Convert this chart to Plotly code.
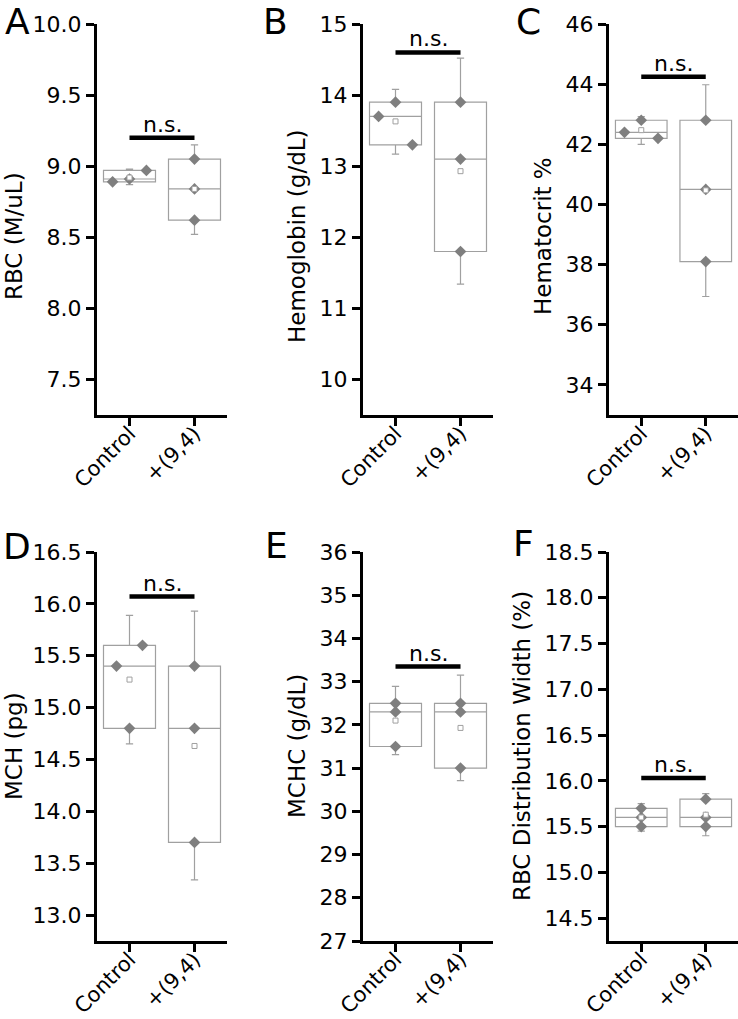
import plotly.graph_objects as go

# ---------------- data ----------------
groups = ["Control", "+(9,4)"]

rbc_control = [8.89, 8.91, 8.97]
rbc_treated = [9.05, 8.84, 8.62]
rbc_mean = [8.92, 8.84]
rbc_q1 = [8.89, 8.62]
rbc_median = [8.91, 8.84]
rbc_q3 = [8.97, 9.05]
rbc_low = [8.87, 8.52]
rbc_high = [8.98, 9.15]

hgb_control = [13.7, 13.9, 13.3]
hgb_treated = [13.9, 13.1, 11.8]
hgb_mean = [13.63, 12.93]
hgb_q1 = [13.3, 11.8]
hgb_median = [13.7, 13.1]
hgb_q3 = [13.9, 13.9]
hgb_low = [13.17, 11.34]
hgb_high = [14.08, 14.52]

hct_control = [42.4, 42.8, 42.2]
hct_treated = [42.8, 40.5, 38.1]
hct_mean = [42.47, 40.47]
hct_q1 = [42.2, 38.1]
hct_median = [42.4, 40.5]
hct_q3 = [42.8, 42.8]
hct_low = [42.0, 36.94]
hct_high = [42.92, 43.98]

mch_control = [15.4, 14.8, 15.6]
mch_treated = [15.4, 14.8, 13.7]
mch_mean = [15.27, 14.63]
mch_q1 = [14.8, 13.7]
mch_median = [15.4, 14.8]
mch_q3 = [15.6, 15.4]
mch_low = [14.65, 13.34]
mch_high = [15.89, 15.93]

mchc_control = [32.5, 32.3, 31.5]
mchc_treated = [32.5, 32.3, 31.0]
mchc_mean = [32.1, 31.93]
mchc_q1 = [31.5, 31.0]
mchc_median = [32.3, 32.3]
mchc_q3 = [32.5, 32.5]
mchc_low = [31.31, 30.71]
mchc_high = [32.89, 33.15]

rdw_control = [15.7, 15.6, 15.5]
rdw_treated = [15.8, 15.6, 15.5]
rdw_mean = [15.6, 15.63]
rdw_q1 = [15.5, 15.5]
rdw_median = [15.6, 15.6]
rdw_q3 = [15.7, 15.8]
rdw_low = [15.45, 15.40]
rdw_high = [15.75, 15.86]

ns_bar_y = [9.2, 14.6, 44.25, 16.07, 33.35, 16.03]

panel_letters = ["A", "B", "C", "D", "E", "F"]
y_titles = ["RBC (M/uL)", "Hemoglobin (g/dL)", "Hematocrit %",
            "MCH (pg)", "MCHC (g/dL)", "RBC Distribution Width (%)"]
y_ranges = [[7.25, 10.0], [9.5, 15.0], [33.0, 46.0],
            [12.75, 16.5], [27.0, 36.0], [14.25, 18.5]]
y_ticks = [[7.5, 8.0, 8.5, 9.0, 9.5, 10.0],
           [10, 11, 12, 13, 14, 15],
           [34, 36, 38, 40, 42, 44, 46],
           [13.0, 13.5, 14.0, 14.5, 15.0, 15.5, 16.0, 16.5],
           [27, 28, 29, 30, 31, 32, 33, 34, 35, 36],
           [14.5, 15.0, 15.5, 16.0, 16.5, 17.0, 17.5, 18.0, 18.5]]
y_formats = [".1f", "d", "d", ".1f", "d", ".1f"]

controls = [rbc_control, hgb_control, hct_control, mch_control, mchc_control, rdw_control]
treateds = [rbc_treated, hgb_treated, hct_treated, mch_treated, mchc_treated, rdw_treated]
means = [rbc_mean, hgb_mean, hct_mean, mch_mean, mchc_mean, rdw_mean]
q1s = [rbc_q1, hgb_q1, hct_q1, mch_q1, mchc_q1, rdw_q1]
medians = [rbc_median, hgb_median, hct_median, mch_median, mchc_median, rdw_median]
q3s = [rbc_q3, hgb_q3, hct_q3, mch_q3, mchc_q3, rdw_q3]
lows = [rbc_low, hgb_low, hct_low, mch_low, mchc_low, rdw_low]
highs = [rbc_high, hgb_high, hct_high, mch_high, mchc_high, rdw_high]

# ---------------- layout / style ----------------
W, H = 738, 1019
FONT = "DejaVu Sans, Arial, sans-serif"
BOX_C = "#a0a0a0"
PT_C = "#7f7f7f"
# horizontal jitter of the control points (category units)
ctrl_jitter = [[-0.26, 0, 0.26], [-0.26, 0, 0.26], [-0.26, 0, 0.26],
               [-0.2, 0, 0.2], [0, 0, 0], [0, 0, 0]]
# pixel frames of the six plot areas: (left, right, top, bottom)
frames = [(97, 227, 24, 415), (363, 493, 24, 415), (609, 738, 24, 415),
          (97, 227, 552, 941), (363, 493, 552, 941), (609, 738, 552, 941)]
title_pos = [(14, 236), (297, 236), (543, 236),
             (14, 746), (297, 746), (522, 746)]
# (x centre, y, vertical anchor)
letter_pos = [(17, 0, "top"), (275, 0, "top"), (528, 0, "top"),
              (17, 546, "middle"), (276, 545, "middle"), (523, 543, "middle")]

fig = go.Figure()
annotations = []
shapes = []

for i in range(6):
    sx = "" if i == 0 else str(i + 1)
    xref, yref = "x" + sx, "y" + sx
    # box
    fig.add_trace(go.Box(
        x=[0, 1], q1=q1s[i], median=medians[i], q3=q3s[i],
        lowerfence=lows[i], upperfence=highs[i],
        width=0.8, whiskerwidth=0.14, boxpoints=False,
        fillcolor="rgba(255,255,255,0)", line=dict(color=BOX_C, width=1.2),
        xaxis=xref, yaxis=yref, showlegend=False, hoverinfo="skip"))
    # points
    xs = [0 + j for j in ctrl_jitter[i]] + [1, 1, 1]
    ys = list(controls[i]) + list(treateds[i])
    fig.add_trace(go.Scatter(
        x=xs, y=ys, mode="markers",
        marker=dict(symbol="diamond", size=9, color=PT_C, line=dict(width=0)),
        xaxis=xref, yaxis=yref, showlegend=False))
    # mean
    fig.add_trace(go.Scatter(
        x=[0, 1], y=means[i], mode="markers",
        marker=dict(symbol="square", size=5, color="white",
                    line=dict(color=BOX_C, width=1)),
        xaxis=xref, yaxis=yref, showlegend=False))

    l, r, t, b = frames[i]
    axis_common = dict(showline=True, linewidth=3, linecolor="black",
                       ticks="outside", ticklen=8, tickwidth=3, tickcolor="black",
                       showgrid=False, zeroline=False, automargin=False)
    fig.layout["xaxis" + sx] = dict(
        domain=[l / W, r / W], anchor=yref, range=[-0.5, 1.5],
        tickvals=[0, 1], ticktext=groups, tickangle=-45, ticklabelstandoff=-13,
        tickfont=dict(size=21, color="black", family=FONT), **axis_common)
    fig.layout["yaxis" + sx] = dict(
        domain=[1 - b / H, 1 - t / H], anchor=xref, range=y_ranges[i],
        tickvals=y_ticks[i], tickformat=y_formats[i],
        tickfont=dict(size=22, color="black", family=FONT), **axis_common)

    # significance bar
    shapes.append(dict(type="line", xref=xref, yref=yref, x0=0, x1=1,
                       y0=ns_bar_y[i], y1=ns_bar_y[i],
                       line=dict(color="black", width=4.5)))
    annotations.append(dict(xref=xref, yref=yref, x=0.5, y=ns_bar_y[i],
                            text="n.s.", showarrow=False, yanchor="bottom",
                            yshift=-1, font=dict(size=22, color="black", family=FONT)))
    # y titles
    tx, ty = title_pos[i]
    annotations.append(dict(xref="paper", yref="paper", x=tx / W, y=1 - ty / H,
                            text=y_titles[i], textangle=-90, showarrow=False,
                            xanchor="center", yanchor="middle",
                            font=dict(size=23, color="black", family=FONT)))
    # panel letters
    lx, ly, la = letter_pos[i]
    annotations.append(dict(xref="paper", yref="paper", x=lx / W, y=1 - ly / H,
                            text=panel_letters[i], showarrow=False,
                            xanchor="center", yanchor=la, borderpad=0,
                            font=dict(size=36, color="black", family=FONT)))

fig.update_layout(
    width=W, height=H, margin=dict(l=0, r=0, t=0, b=0, autoexpand=False),
    paper_bgcolor="white", plot_bgcolor="white",
    boxmode="overlay", showlegend=False,
    annotations=annotations, shapes=shapes,
    font=dict(family=FONT, color="black"))

fig.write_html("out.html", config={"displayModeBar": False},
               post_script="document.body.style.margin='0px';"
                           "document.body.style.overflow='hidden';")
